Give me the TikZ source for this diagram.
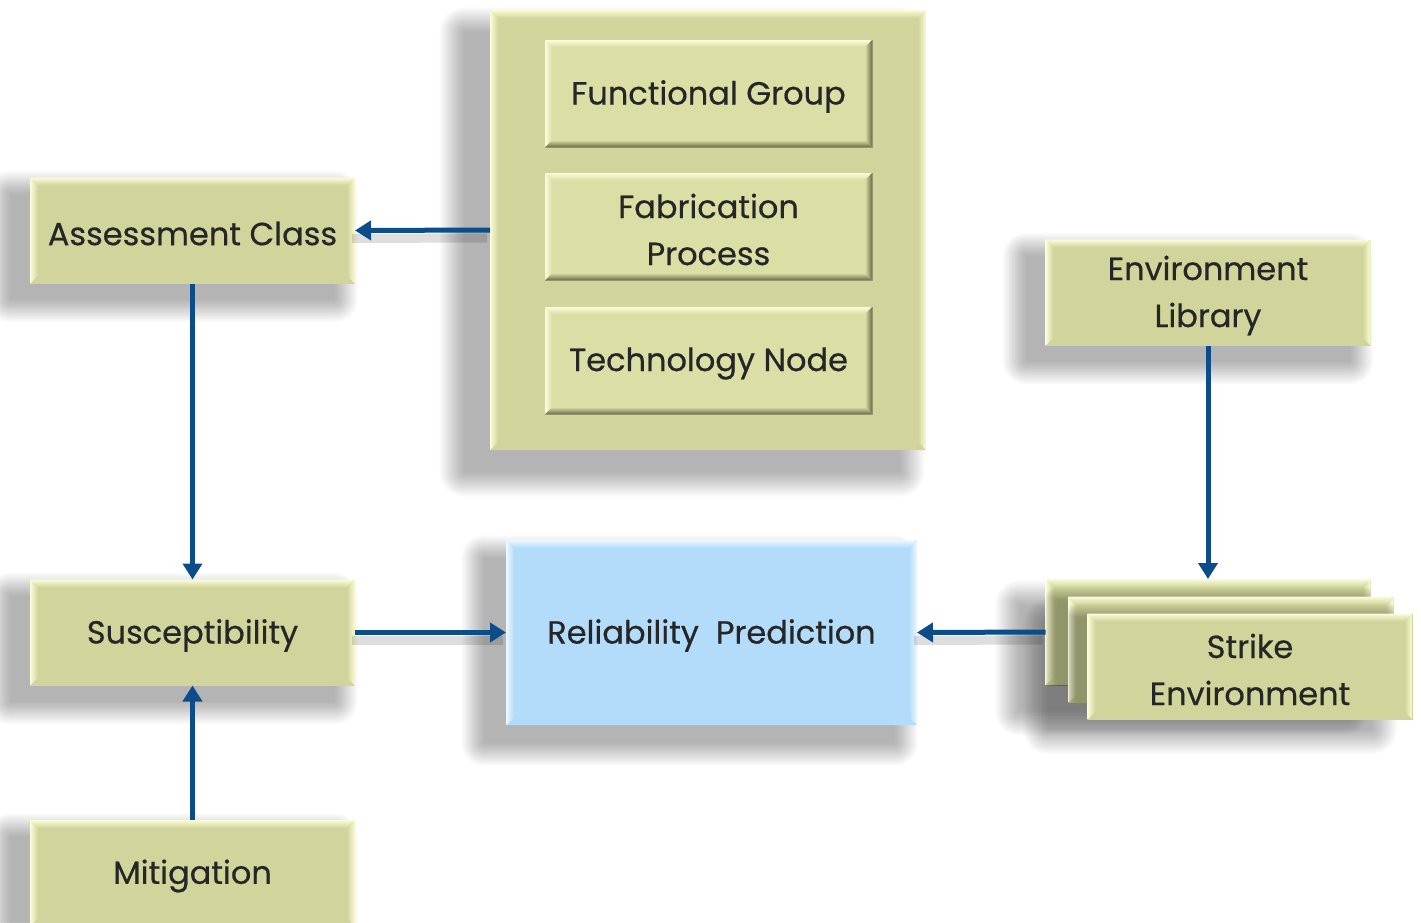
\documentclass[tikz,border=0pt]{standalone}
\usepackage{fontspec}
\setmainfont{Poppins}[FakeBold=0.5]
\usetikzlibrary{arrows.meta}

\definecolor{boxolive}{HTML}{D2D59B}
\definecolor{inolive}{HTML}{DBDFA6}
\definecolor{bevlight}{HTML}{FBFCDA}
\definecolor{bevdark}{HTML}{6E6F42}
\definecolor{predblue}{HTML}{B3DCFB}
\definecolor{bluelight}{HTML}{EEF8FF}
\definecolor{linkblue}{HTML}{0C4C88}
\definecolor{labelgray}{HTML}{262626}

% bevelled edges: #1 node, #2 width, #3 top, #4 right, #5 bottom, #6 left, #7 fill
\newcommand\bevelbox[7]{%
  \shade[top color=#3, bottom color=#7]
    (#1.north west) -- (#1.north east) -- ([xshift=-#2,yshift=-#2]#1.north east)
    -- ([xshift=#2,yshift=-#2]#1.north west) -- cycle;
  \shade[top color=#7, bottom color=#5]
    (#1.south west) -- (#1.south east) -- ([xshift=-#2,yshift=#2]#1.south east)
    -- ([xshift=#2,yshift=#2]#1.south west) -- cycle;
  \shade[left color=#6, right color=#7]
    (#1.north west) -- (#1.south west) -- ([xshift=#2,yshift=#2]#1.south west)
    -- ([xshift=#2,yshift=-#2]#1.north west) -- cycle;
  \shade[left color=#7, right color=#4]
    (#1.north east) -- (#1.south east) -- ([xshift=-#2,yshift=#2]#1.south east)
    -- ([xshift=-#2,yshift=-#2]#1.north east) -- cycle;
}

% soft drop shadow of a node: #1 node, #2 x offset, #3 y offset, #4 spread
\newcommand\softshadow[4]{%
  \foreach \k in {1,...,16}{%
    \pgfmathsetmacro\sp{#4*(1-\k/16)}%
    \fill[black, opacity=0.021, rounded corners=\sp pt]
      ([xshift=#2-\sp pt, yshift=#3+\sp pt]#1.north west) rectangle
      ([xshift=#2+\sp pt, yshift=#3-\sp pt]#1.south east);
  }%
}

\tikzset{
  card/.style={rectangle, outer sep=0pt, inner sep=4pt, align=center,
    text=labelgray, font=\fontsize{32}{47}\selectfont},
  label/.style={card, yshift=-3pt},
  outerbox/.style={card, fill=boxolive, minimum width=325pt, minimum height=106pt},
  innerbox/.style={card, fill=inolive, draw=bevdark!70, line width=0.8pt,
    minimum width=327pt, minimum height=107pt},
  predbox/.style={card, fill=predblue, minimum width=411pt, minimum height=185pt},
  link/.style={draw=linkblue, line width=5pt,
    -{Triangle[length=16pt,width=19pt]}},
  linkshade/.style={draw=black, opacity=0.13, line width=9pt,
    transform canvas={xshift=-3pt,yshift=-8pt}}
}

\begin{document}
\begin{tikzpicture}[x=1pt,y=-1pt]
  \fill[white] (0,0) rectangle (1421,922);
  \clip (0,0) rectangle (1421,922);

  % box frames (placed first so the shadows can refer to them)
  \path node[card, minimum width=436pt, minimum height=440pt] (cont) at (708,230) {}
        node[outerbox, fill=none] (ac) at (192.5,230.5) {}
        node[outerbox, fill=none] (sus) at (192.5,632.5) {}
        node[outerbox, fill=none] (mit) at (192.5,873) {}
        node[predbox, fill=none] (rel) at (711.5,632.5) {}
        node[outerbox, fill=none] (env) at (1208,292.5) {}
        node[outerbox, fill=none] (se1) at (1208,632) {}
        node[outerbox, fill=none] (se2) at (1231,649.5) {}
        node[outerbox, fill=none] (se3) at (1250,666.5) {};

  % drop shadows
  \softshadow{cont}{-26pt}{-22pt}{26}
  \softshadow{ac}{-20pt}{-16pt}{24}
  \softshadow{sus}{-20pt}{-16pt}{24}
  \softshadow{mit}{-20pt}{-16pt}{24}
  \softshadow{rel}{-22pt}{-18pt}{24}
  \softshadow{env}{-20pt}{-16pt}{24}
  \softshadow{se1}{-26pt}{-26pt}{26}
  \softshadow{se3}{-40pt}{-10pt}{26}

  % container of the three technology factors
  \fill[boxolive] (cont.north west) rectangle (cont.south east);
  \bevelbox{cont}{8pt}{bevlight}{bevlight}{boxolive}{bevlight}{boxolive}

  \node[innerbox] (fg) at (708.5,93.5) {};
  \bevelbox{fg}{7pt}{bevlight}{bevdark}{bevdark}{bevlight}{inolive}
  \node[label] at (fg) {Functional Group};

  \node[innerbox] (fp) at (708.5,226.5) {};
  \bevelbox{fp}{7pt}{bevlight}{bevdark}{bevdark}{bevlight}{inolive}
  \node[label] at (fp) {Fabrication\\Process};

  \node[innerbox] (tn) at (708.5,360.5) {};
  \bevelbox{tn}{7pt}{bevlight}{bevdark}{bevdark}{bevlight}{inolive}
  \node[label] at (tn) {Technology Node};

  % left column
  \fill[boxolive] (ac.north west) rectangle (ac.south east);
  \bevelbox{ac}{8pt}{bevlight}{bevlight}{boxolive}{bevlight}{boxolive}
  \node[label] at (ac) {Assessment Class};

  \fill[boxolive] (sus.north west) rectangle (sus.south east);
  \bevelbox{sus}{8pt}{bevlight}{bevlight}{boxolive}{bevlight}{boxolive}
  \node[label] at (sus) {Susceptibility};

  \fill[boxolive] (mit.north west) rectangle (mit.south east);
  \bevelbox{mit}{8pt}{bevlight}{bevlight}{boxolive}{bevlight}{boxolive}
  \node[label] at (mit) {Mitigation};

  % prediction
  \fill[predblue] (rel.north west) rectangle (rel.south east);
  \bevelbox{rel}{8pt}{bluelight}{bluelight}{predblue}{bluelight}{predblue}
  \node[label] at (rel) {Reliability\ \ Prediction};

  % environment
  \fill[boxolive] (env.north west) rectangle (env.south east);
  \bevelbox{env}{8pt}{bevlight}{bevlight}{boxolive}{bevlight}{boxolive}
  \node[label] at (env) {Environment\\Library};

  % stacked strike environment cards, each shading the one behind
  \fill[boxolive] (se1.north west) rectangle (se1.south east);
  \bevelbox{se1}{8pt}{bevlight}{bevlight}{boxolive}{bevlight}{boxolive}
  \begin{scope}
    \clip (se1.north west) rectangle (se1.south east);
    \softshadow{se2}{-12pt}{-4pt}{14}
  \end{scope}
  \fill[boxolive] (se2.north west) rectangle (se2.south east);
  \bevelbox{se2}{8pt}{bevlight}{bevlight}{boxolive}{bevlight}{boxolive}
  \begin{scope}
    \clip (se2.north west) rectangle (se2.south east);
    \softshadow{se3}{-12pt}{-4pt}{14}
  \end{scope}
  \fill[boxolive] (se3.north west) rectangle (se3.south east);
  \bevelbox{se3}{8pt}{bevlight}{bevlight}{boxolive}{bevlight}{boxolive}
  \node[label] at (se3) {Strike\\Environment};

  % connector shadows
  \draw[linkshade] (cont.west) -- (ac.east);
  \draw[linkshade] (se1.west) -- (rel.east);
  \draw[linkshade] (sus.east) -- (rel.west);

  % connectors
  \draw[link] (cont.west) -- (ac.east);
  \draw[link] (ac.south) -- (sus.north);
  \draw[link] (mit.north) -- (sus.south);
  \draw[link] (sus.east) -- (rel.west);
  \draw[link] (env.south) -- (se1.north);
  \draw[link] (se1.west) -- (rel.east);
\end{tikzpicture}
\end{document}
